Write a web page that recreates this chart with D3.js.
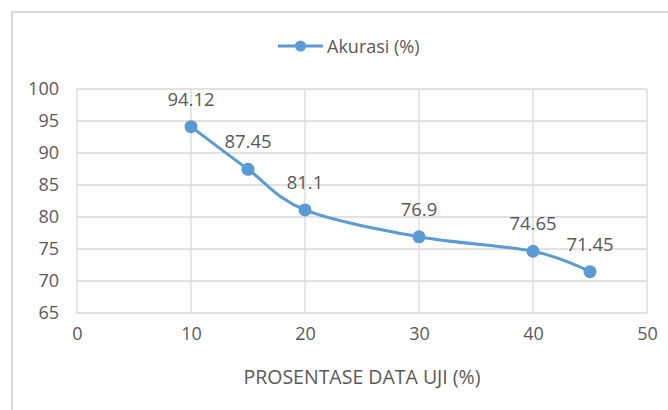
<!DOCTYPE html>
<html>
<head>
<meta charset="utf-8">
<script src="https://cdn.jsdelivr.net/npm/d3@7"></script>
<style>
  body { margin: 0; background: #fff; }
  svg { display: block; font-family: "Open Sans", sans-serif; }
</style>
</head>
<body>
<div id="grafik"></div>
<script>
// data
const persenUji = [10, 15, 20, 30, 40, 45];
const akurasi = [94.12, 87.45, 81.1, 76.9, 74.65, 71.45];
const xTicks = [0, 10, 20, 30, 40, 50];
const yTicks = [65, 70, 75, 80, 85, 90, 95, 100];

const W = 668, H = 410;
const margin = { top: 89, right: 21, bottom: 97, left: 77 },
    width = W - margin.left - margin.right,
    height = H - margin.top - margin.bottom;

const biru = "#5b9bd5";
const teks = "#595959";
const grid = "#d9d9d9";

const svg = d3.select("#grafik")
    .append("svg")
    .attr("width", W)
    .attr("height", H);

// outer chart border (runs off the right and bottom)
svg.append("rect")
    .attr("x", 12).attr("y", 12)
    .attr("width", W + 20).attr("height", H + 20)
    .attr("fill", "none")
    .attr("stroke", grid)
    .attr("stroke-width", 2);

const g = svg.append("g")
    .attr("transform", "translate(" + margin.left + "," + margin.top + ")");

const x = d3.scaleLinear().domain([0, 50]).range([0, width]);
const y = d3.scaleLinear().domain([65, 100]).range([height, 0]);

// gridlines
g.append("g")
    .selectAll("line")
    .data(yTicks)
    .enter()
    .append("line")
    .attr("x1", 0).attr("x2", width)
    .attr("y1", d => y(d)).attr("y2", d => y(d))
    .attr("stroke", grid).attr("stroke-width", 1.3);

g.append("g")
    .selectAll("line")
    .data(xTicks)
    .enter()
    .append("line")
    .attr("x1", d => x(d)).attr("x2", d => x(d))
    .attr("y1", 0).attr("y2", height)
    .attr("stroke", grid).attr("stroke-width", 1.3);

// axes (text only, lines are the grid)
const yAxis = g.append("g")
    .call(d3.axisLeft(y).tickValues(yTicks).tickSize(0).tickPadding(18));
const xAxis = g.append("g")
    .attr("transform", "translate(0," + height + ")")
    .call(d3.axisBottom(x).tickValues(xTicks).tickSize(0).tickPadding(18));

[yAxis, xAxis].forEach(a => {
    a.select(".domain").remove();
    a.selectAll("text")
        .attr("fill", teks)
        .style("font-size", "18px")
        .style("font-family", "'Open Sans', sans-serif");
});
xAxis.selectAll("text").attr("dy", "0.5em");

// x axis title
svg.append("text")
    .attr("x", margin.left + width / 2)
    .attr("y", 384)
    .attr("text-anchor", "middle")
    .attr("fill", teks)
    .style("font-size", "19.5px")
    .text("PROSENTASE DATA UJI (%)");

// line
const data = persenUji.map((d, i) => ({ x: d, y: akurasi[i] }));

const garis = d3.line()
    .x(d => x(d.x))
    .y(d => y(d.y))
    .curve(d3.curveCatmullRom.alpha(0));

g.append("path")
    .datum(data)
    .attr("d", garis)
    .attr("fill", "none")
    .attr("stroke", biru)
    .attr("stroke-width", 3);

g.selectAll(".titik")
    .data(data)
    .enter()
    .append("circle")
    .attr("class", "titik")
    .attr("cx", d => x(d.x))
    .attr("cy", d => y(d.y))
    .attr("r", 6.5)
    .attr("fill", biru);

// data labels
g.selectAll(".label")
    .data(data)
    .enter()
    .append("text")
    .attr("class", "label")
    .attr("x", d => x(d.x))
    .attr("y", d => y(d.y) - 21)
    .attr("text-anchor", "middle")
    .attr("fill", teks)
    .style("font-size", "18.5px")
    .text(d => d.y);

// legend
const leg = svg.append("g").attr("transform", "translate(278,46)");
leg.append("line")
    .attr("x1", 0).attr("x2", 45)
    .attr("stroke", biru).attr("stroke-width", 3);
leg.append("circle")
    .attr("cx", 22.5).attr("r", 5.5)
    .attr("fill", biru);
leg.append("text")
    .attr("x", 49).attr("y", 6.5)
    .attr("fill", teks)
    .style("font-size", "18px")
    .text("Akurasi (%)");
</script>
</body>
</html>
